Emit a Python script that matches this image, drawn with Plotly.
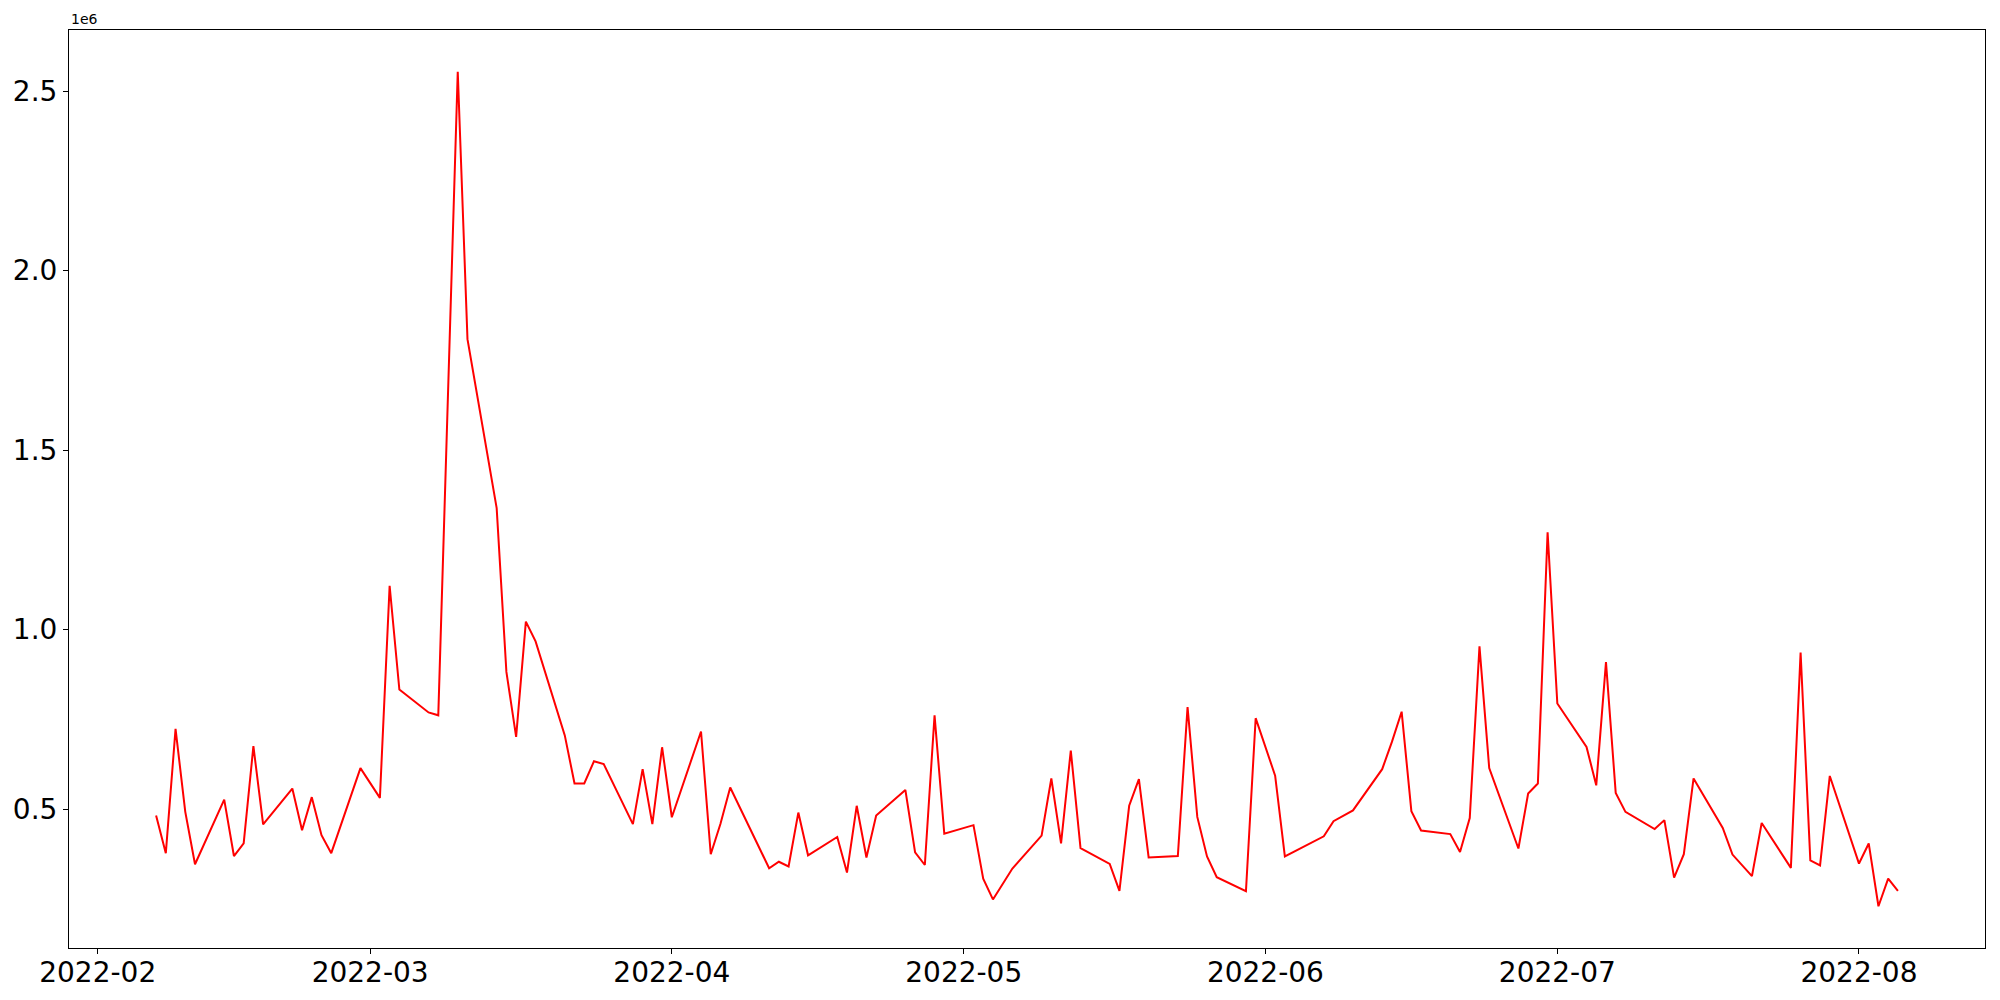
import plotly.graph_objects as go
import pandas as pd

dates = [
    "2022-02-07", "2022-02-08", "2022-02-09", "2022-02-10", "2022-02-11",
    "2022-02-14", "2022-02-15", "2022-02-16", "2022-02-17", "2022-02-18",
    "2022-02-21", "2022-02-22", "2022-02-23", "2022-02-24", "2022-02-25",
    "2022-02-28", "2022-03-02", "2022-03-03", "2022-03-04",
    "2022-03-07", "2022-03-08", "2022-03-10", "2022-03-11",
    "2022-03-14", "2022-03-15", "2022-03-16", "2022-03-17", "2022-03-18",
    "2022-03-21", "2022-03-22", "2022-03-23", "2022-03-24", "2022-03-25",
    "2022-03-28", "2022-03-29", "2022-03-30", "2022-03-31", "2022-04-01",
    "2022-04-04", "2022-04-05", "2022-04-06", "2022-04-07",
    "2022-04-11", "2022-04-12", "2022-04-13", "2022-04-14", "2022-04-15",
    "2022-04-18", "2022-04-19", "2022-04-20", "2022-04-21", "2022-04-22",
    "2022-04-25", "2022-04-26", "2022-04-27", "2022-04-28", "2022-04-29",
    "2022-05-02", "2022-05-03", "2022-05-04", "2022-05-06",
    "2022-05-09", "2022-05-10", "2022-05-11", "2022-05-12", "2022-05-13",
    "2022-05-16", "2022-05-17", "2022-05-18", "2022-05-19", "2022-05-20",
    "2022-05-23", "2022-05-24", "2022-05-25", "2022-05-26", "2022-05-27",
    "2022-05-30", "2022-05-31", "2022-06-02", "2022-06-03",
    "2022-06-07", "2022-06-08", "2022-06-10",
    "2022-06-13", "2022-06-14", "2022-06-15", "2022-06-16", "2022-06-17",
    "2022-06-20", "2022-06-21", "2022-06-22", "2022-06-23", "2022-06-24",
    "2022-06-27", "2022-06-28", "2022-06-29", "2022-06-30", "2022-07-01",
    "2022-07-04", "2022-07-05", "2022-07-06", "2022-07-07", "2022-07-08",
    "2022-07-11", "2022-07-12", "2022-07-13", "2022-07-14", "2022-07-15",
    "2022-07-18", "2022-07-19", "2022-07-21", "2022-07-22",
    "2022-07-25", "2022-07-26", "2022-07-27", "2022-07-28", "2022-07-29",
    "2022-08-01", "2022-08-02", "2022-08-03", "2022-08-04", "2022-08-05",
]

values = [
    482000, 377000, 723000, 492000, 346000,
    526000, 369000, 404000, 675000, 457000,
    557000, 441000, 533000, 427000, 377000,
    614000, 531000, 1122000, 833000,
    769000, 761000, 2554000, 1809000,
    1338000, 882000, 701000, 1022000, 967000,
    705000, 571000, 571000, 633000, 625000,
    458000, 611000, 458000, 672000, 477000,
    716000, 374000, 459000, 560000,
    335000, 353000, 340000, 490000, 371000,
    422000, 323000, 509000, 365000, 482000,
    553000, 379000, 344000, 761000, 431000,
    455000, 306000, 248000, 334000,
    426000, 585000, 404000, 663000, 391000,
    347000, 272000, 509000, 583000, 365000,
    369000, 784000, 478000, 368000, 310000,
    271000, 753000, 593000, 368000,
    424000, 466000, 496000,
    611000, 687000, 771000, 494000, 440000,
    430000, 380000, 475000, 953000, 614000,
    390000, 543000, 571000, 1271000, 794000,
    673000, 566000, 909000, 545000, 492000,
    444000, 469000, 309000, 374000, 585000,
    447000, 373000, 313000, 461000,
    336000, 936000, 357000, 343000, 592000,
    348000, 404000, 229000, 306000, 272000,
]

y_tick_vals = [500000, 1000000, 1500000, 2000000, 2500000]
y_tick_text = ["0.5", "1.0", "1.5", "2.0", "2.5"]
offset_label = "1e6"

d = pd.to_datetime(dates)
span = d.max() - d.min()
x_range = [d.min() - span * 0.05, d.max() + span * 0.05]
vmin, vmax = min(values), max(values)
pad = (vmax - vmin) * 0.05
y_range = [vmin - pad, vmax + pad]

fig = go.Figure()
fig.add_trace(go.Scatter(
    x=d, y=values, mode="lines",
    line=dict(color="#ff0000", width=2),
    showlegend=False,
))

axis_common = dict(
    showgrid=False, zeroline=False, automargin=False,
    showline=True, linecolor="black", linewidth=1.1, mirror=True,
    ticks="outside", ticklen=5, tickwidth=1.1, tickcolor="black",
    tickfont=dict(family="DejaVu Sans", size=28, color="black"),
)

fig.update_xaxes(
    range=x_range, tickformat="%Y-%m", dtick="M1", tick0="2022-02-01",
    ticklabelstandoff=-6,
    **axis_common,
)
fig.update_yaxes(
    range=y_range, tickvals=y_tick_vals, ticktext=y_tick_text,
    **axis_common,
)

fig.add_annotation(
    text=offset_label, xref="paper", yref="paper", x=0, y=1,
    xanchor="left", yanchor="bottom", showarrow=False,
    font=dict(family="DejaVu Sans", size=14, color="black"),
    yshift=1,
)

fig.update_layout(
    width=2000, height=1000,
    margin=dict(l=69, r=15, t=30, b=52),
    paper_bgcolor="white", plot_bgcolor="white",
)

fig.write_html(
    "out.html",
    config={"displayModeBar": False},
    post_script="document.body.style.margin='0';document.body.style.overflow='hidden';",
)
